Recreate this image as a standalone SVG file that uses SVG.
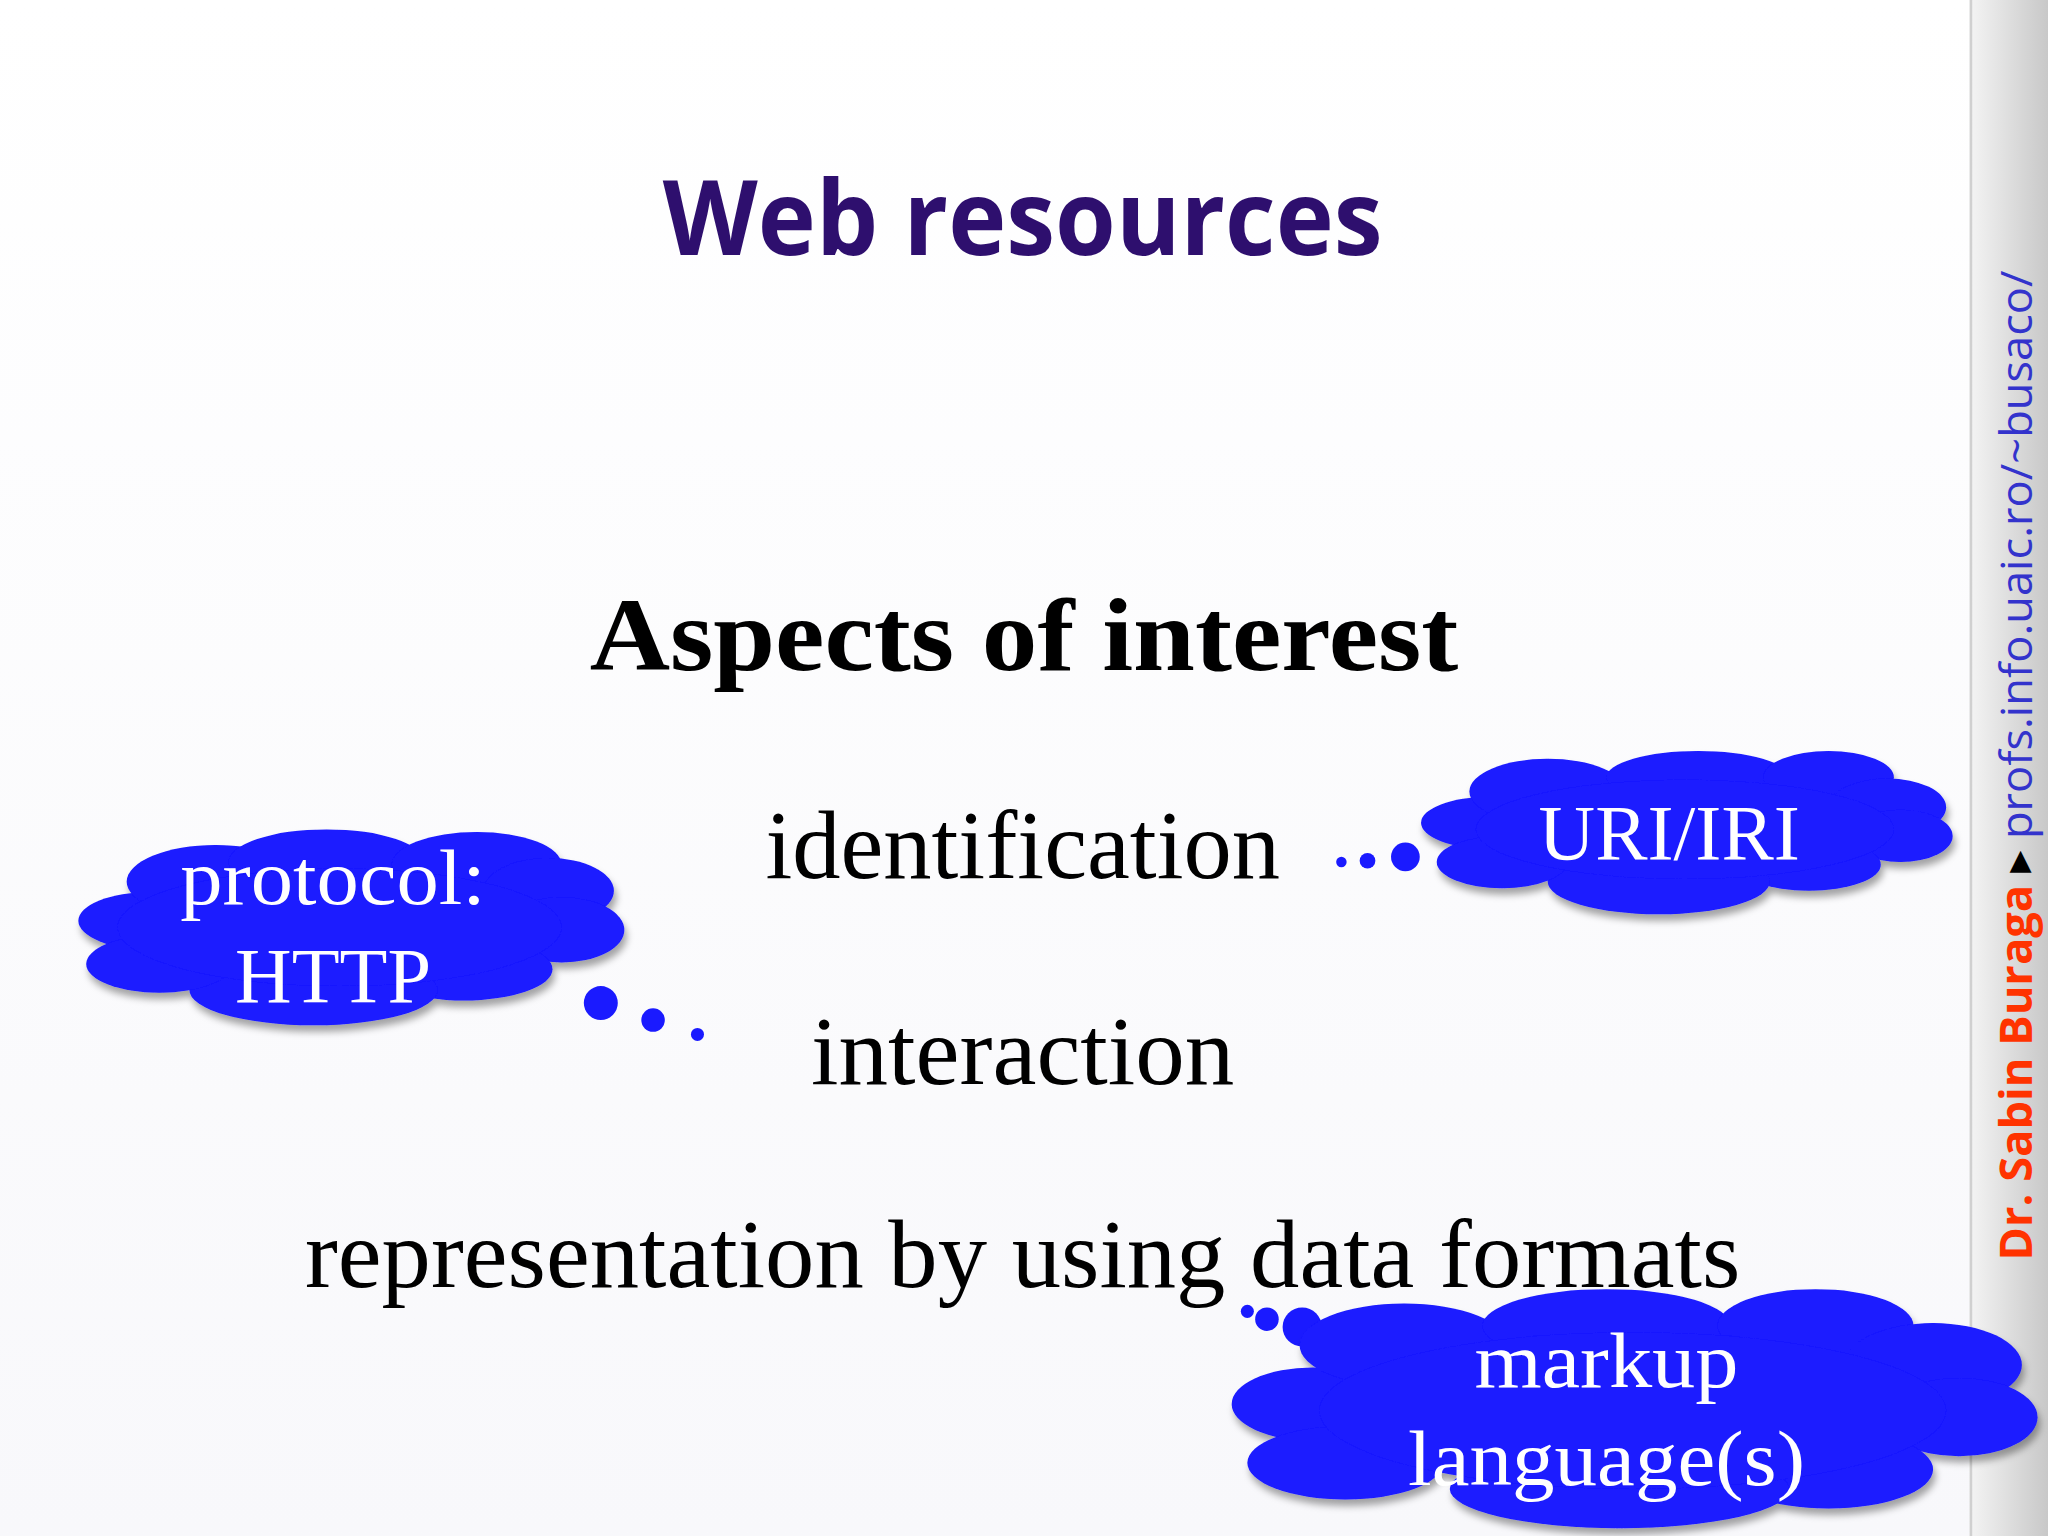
<svg xmlns="http://www.w3.org/2000/svg" width="2048" height="1536" viewBox="0 0 2048 1536">
<defs>
<linearGradient id="side" x1="0" y1="0" x2="1" y2="0"><stop offset="0" stop-color="#f4f4f4"/><stop offset="1" stop-color="#c8c8c8"/></linearGradient>
<linearGradient id="bg" x1="0" y1="0" x2="0" y2="1"><stop offset="0" stop-color="#ffffff"/><stop offset="1" stop-color="#f8f8fb"/></linearGradient>
<filter id="sh" x="-10%" y="-10%" width="130%" height="140%"><feDropShadow dx="2" dy="5" stdDeviation="3" flood-color="#000" flood-opacity="0.35"/></filter>
<style>
.cl{fill:#1a1aff}
.ct{font-family:"Liberation Serif",serif;fill:#fff;font-size:60px;text-anchor:middle}
.bt{font-family:"Liberation Serif",serif;fill:#000;font-size:75px;text-anchor:middle}
.dot{fill:#1a1aff}
</style>
</defs>
<rect width="2048" height="1536" fill="url(#bg)"/>
<g transform="scale(1.30612)">
<rect x="1508" y="0" width="60" height="1176" fill="url(#side)"/>
<line x1="1509" y1="0" x2="1509" y2="1176" stroke="#d0d0d0" stroke-width="2"/>
<text transform="translate(1556,965) rotate(-90)" font-family="Open Sans,sans-serif" font-size="34" textLength="758" lengthAdjust="spacingAndGlyphs"><tspan fill="#ff3300" font-weight="bold">Dr. Sabin Buraga</tspan><tspan fill="#000"> ▸ </tspan><tspan fill="#3333cc">profs.info.uaic.ro/~busaco/</tspan></text>

<g id="title"><text x="783" y="195" font-family="Open Sans,sans-serif" font-weight="bold" font-size="80" fill="#2e0f6e" text-anchor="middle" textLength="551" lengthAdjust="spacingAndGlyphs">Web resources</text></g>
<g id="aspects"><text x="784" y="513" font-family="Liberation Serif,serif" font-weight="bold" font-size="80" text-anchor="middle" textLength="665" lengthAdjust="spacingAndGlyphs">Aspects of interest</text></g>
<g id="identification"><text class="bt" x="783" y="672" textLength="394" lengthAdjust="spacingAndGlyphs">identification</text></g>
<g id="interaction"><text class="bt" x="783" y="830" textLength="324" lengthAdjust="spacingAndGlyphs">interaction</text></g>
<g id="representation"><text class="bt" x="783" y="985" textLength="1099" lengthAdjust="spacingAndGlyphs">representation by using data formats</text></g>

<g id="connectors">
<circle class="dot" cx="1027" cy="660" r="4"/><circle class="dot" cx="1047" cy="659" r="6"/><circle class="dot" cx="1076" cy="656" r="11"/>
<circle class="dot" cx="460" cy="768" r="13"/><circle class="dot" cx="500" cy="781" r="9"/><circle class="dot" cx="534" cy="792" r="5"/>
<circle class="dot" cx="955" cy="1004" r="5"/><circle class="dot" cx="970" cy="1010" r="9"/><circle class="dot" cx="997" cy="1016" r="15"/>
</g>

<g id="protocol">
<g class="cl" filter="url(#sh)">
<ellipse cx="115" cy="705" rx="55" ry="22"/><ellipse cx="165" cy="675" rx="68" ry="28"/><ellipse cx="250" cy="660" rx="75" ry="25"/>
<ellipse cx="365" cy="662" rx="65" ry="25"/><ellipse cx="420" cy="682" rx="50" ry="25"/><ellipse cx="430" cy="712" rx="48" ry="25"/>
<ellipse cx="355" cy="742" rx="68" ry="24"/><ellipse cx="240" cy="758" rx="95" ry="27"/><ellipse cx="122" cy="738" rx="56" ry="22"/>
<ellipse cx="260" cy="710" rx="170" ry="45"/>
</g>
<text class="ct" x="255" y="692" textLength="234" lengthAdjust="spacingAndGlyphs">protocol:</text>
<text class="ct" x="255" y="767">HTTP</text>
</g>

<g id="uri">
<g class="cl" filter="url(#sh)">
<ellipse cx="1140" cy="630" rx="52" ry="20"/><ellipse cx="1185" cy="606" rx="60" ry="25"/><ellipse cx="1300" cy="595" rx="70" ry="20"/>
<ellipse cx="1400" cy="595" rx="50" ry="20"/><ellipse cx="1445" cy="618" rx="45" ry="22"/><ellipse cx="1455" cy="640" rx="40" ry="20"/>
<ellipse cx="1385" cy="662" rx="55" ry="20"/><ellipse cx="1270" cy="675" rx="85" ry="25"/><ellipse cx="1150" cy="660" rx="50" ry="20"/>
<ellipse cx="1290" cy="635" rx="160" ry="38"/>
</g>
<text class="ct" x="1278" y="658" textLength="200" lengthAdjust="spacingAndGlyphs">URI/IRI</text>
</g>

<g id="markup">
<g class="cl" filter="url(#sh)">
<ellipse cx="1005" cy="1075" rx="62" ry="28"/><ellipse cx="1075" cy="1030" rx="80" ry="32"/><ellipse cx="1230" cy="1015" rx="95" ry="28"/>
<ellipse cx="1390" cy="1015" rx="75" ry="28"/><ellipse cx="1480" cy="1045" rx="68" ry="32"/><ellipse cx="1500" cy="1085" rx="60" ry="30"/>
<ellipse cx="1400" cy="1125" rx="80" ry="30"/><ellipse cx="1240" cy="1140" rx="130" ry="30"/><ellipse cx="1030" cy="1120" rx="75" ry="28"/>
<ellipse cx="1250" cy="1080" rx="240" ry="60"/>
</g>
<text class="ct" x="1230" y="1062" textLength="202" lengthAdjust="spacingAndGlyphs">markup</text>
<text class="ct" x="1230" y="1137" textLength="304" lengthAdjust="spacingAndGlyphs">language(s)</text>
</g>
</g>
</svg>
